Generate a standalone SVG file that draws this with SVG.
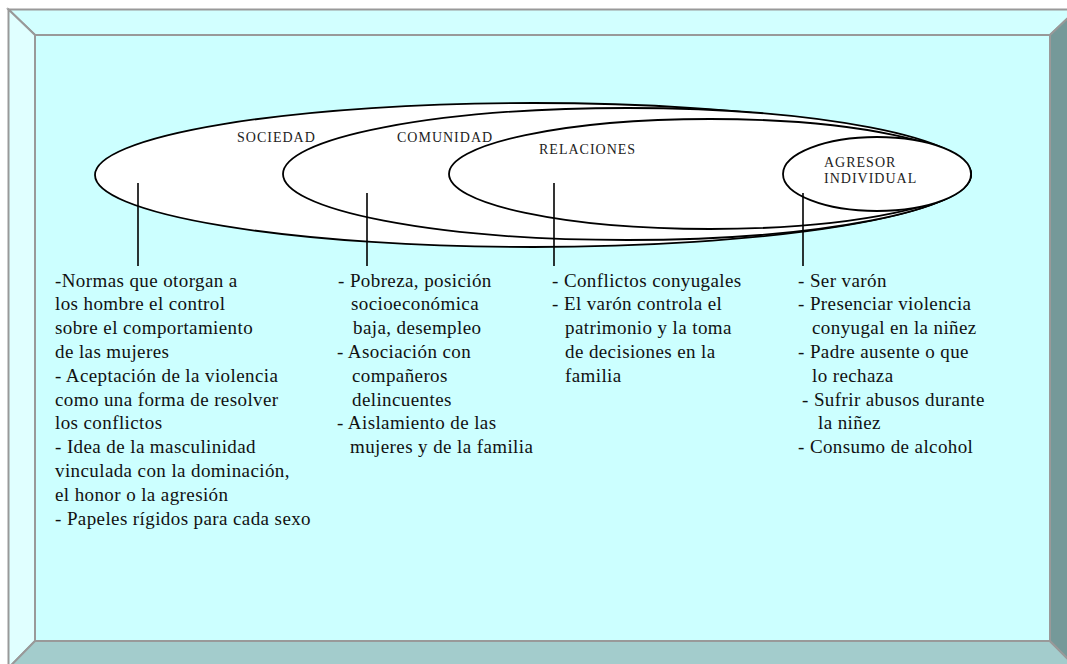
<svg xmlns="http://www.w3.org/2000/svg" width="1067" height="664" viewBox="0 0 1067 664">
<style>
.bev{stroke:#999999;stroke-width:2;stroke-linejoin:miter}
.ell{fill:#ffffff;stroke:#000000;stroke-width:1.8}
.lbl{font-family:"Liberation Serif","Times New Roman",serif;font-size:14px;letter-spacing:1px;fill:#222222}
.txt{font-family:"Liberation Serif","Times New Roman",serif;font-size:19px;letter-spacing:0.4px;fill:#111111}
.con{stroke:#000000;stroke-width:1.6;fill:none}
</style>
<rect width="1067" height="664" fill="#ffffff"/>
<g id="frame">
<polygon class="bev" points="8.5,9.5 1077,9.5 1050,35 35,35" fill="#d2ffff"/>
<polygon class="bev" points="8.5,9.5 35,35 35,641 8.5,668" fill="#e0ffff"/>
<polygon class="bev" points="8.5,668 35,641 1050,641 1077,668" fill="#a3cccc"/>
<polygon class="bev" points="1077,9.5 1050,35 1050,641 1077,668" fill="#759999"/>
<rect class="bev" x="35" y="35" width="1015" height="606" fill="#ccffff"/>
</g>
<g id="sociedad">
<ellipse class="ell" cx="533" cy="175" rx="438" ry="72"/>
<text class="lbl" x="237" y="142">SOCIEDAD</text>
</g>
<g id="comunidad">
<ellipse class="ell" cx="627" cy="174" rx="344" ry="66"/>
<text class="lbl" x="397" y="142">COMUNIDAD</text>
</g>
<g id="relaciones">
<ellipse class="ell" cx="710" cy="174" rx="261" ry="55"/>
<text class="lbl" x="539" y="154">RELACIONES</text>
</g>
<g id="agresor">
<ellipse class="ell" cx="877" cy="174" rx="94" ry="37"/>
<text class="lbl" x="824" y="167">AGRESOR</text>
<text class="lbl" x="824" y="183">INDIVIDUAL</text>
</g>
<g id="connectors">
<line class="con" x1="138" y1="183" x2="138" y2="266"/>
<line class="con" x1="367" y1="193" x2="367" y2="266"/>
<line class="con" x1="554" y1="183" x2="554" y2="266"/>
<line class="con" x1="803" y1="193" x2="803" y2="266"/>
</g>
<g id="text-sociedad" class="txt">
<text x="55" y="286.5">-Normas que otorgan a</text>
<text x="55" y="310.3">los hombre el control</text>
<text x="55" y="334.1">sobre el comportamiento</text>
<text x="55" y="357.9">de las mujeres</text>
<text x="55" y="381.7">- Aceptación de la violencia</text>
<text x="55" y="405.5">como una forma de resolver</text>
<text x="55" y="429.3">los conflictos</text>
<text x="55" y="453.1">- Idea de la masculinidad</text>
<text x="55" y="476.9">vinculada con la dominación,</text>
<text x="55" y="500.7">el honor o la agresión</text>
<text x="55" y="524.5">- Papeles rígidos para cada sexo</text>
</g>
<g id="text-comunidad" class="txt">
<text x="338" y="286.5">- Pobreza, posición</text>
<text x="351" y="310.3">socioeconómica</text>
<text x="353" y="334.1">baja, desempleo</text>
<text x="337" y="357.9">- Asociación con</text>
<text x="352" y="381.7">compañeros</text>
<text x="352" y="405.5">delincuentes</text>
<text x="337" y="429.3">- Aislamiento de las</text>
<text x="350" y="453.1">mujeres y de la familia</text>
</g>
<g id="text-relaciones" class="txt">
<text x="552" y="286.5">- Conflictos conyugales</text>
<text x="552" y="310.3">- El varón controla el</text>
<text x="565" y="334.1">patrimonio y la toma</text>
<text x="565" y="357.9">de decisiones en la</text>
<text x="565" y="381.7">familia</text>
</g>
<g id="text-agresor" class="txt">
<text x="798" y="286.5">- Ser varón</text>
<text x="798" y="310.3">- Presenciar violencia</text>
<text x="812" y="334.1">conyugal en la niñez</text>
<text x="798" y="357.9">- Padre ausente o que</text>
<text x="812" y="381.7">lo rechaza</text>
<text x="802" y="405.5">- Sufrir abusos durante</text>
<text x="818" y="429.3">la niñez</text>
<text x="798" y="453.1">- Consumo de alcohol</text>
</g>
</svg>
